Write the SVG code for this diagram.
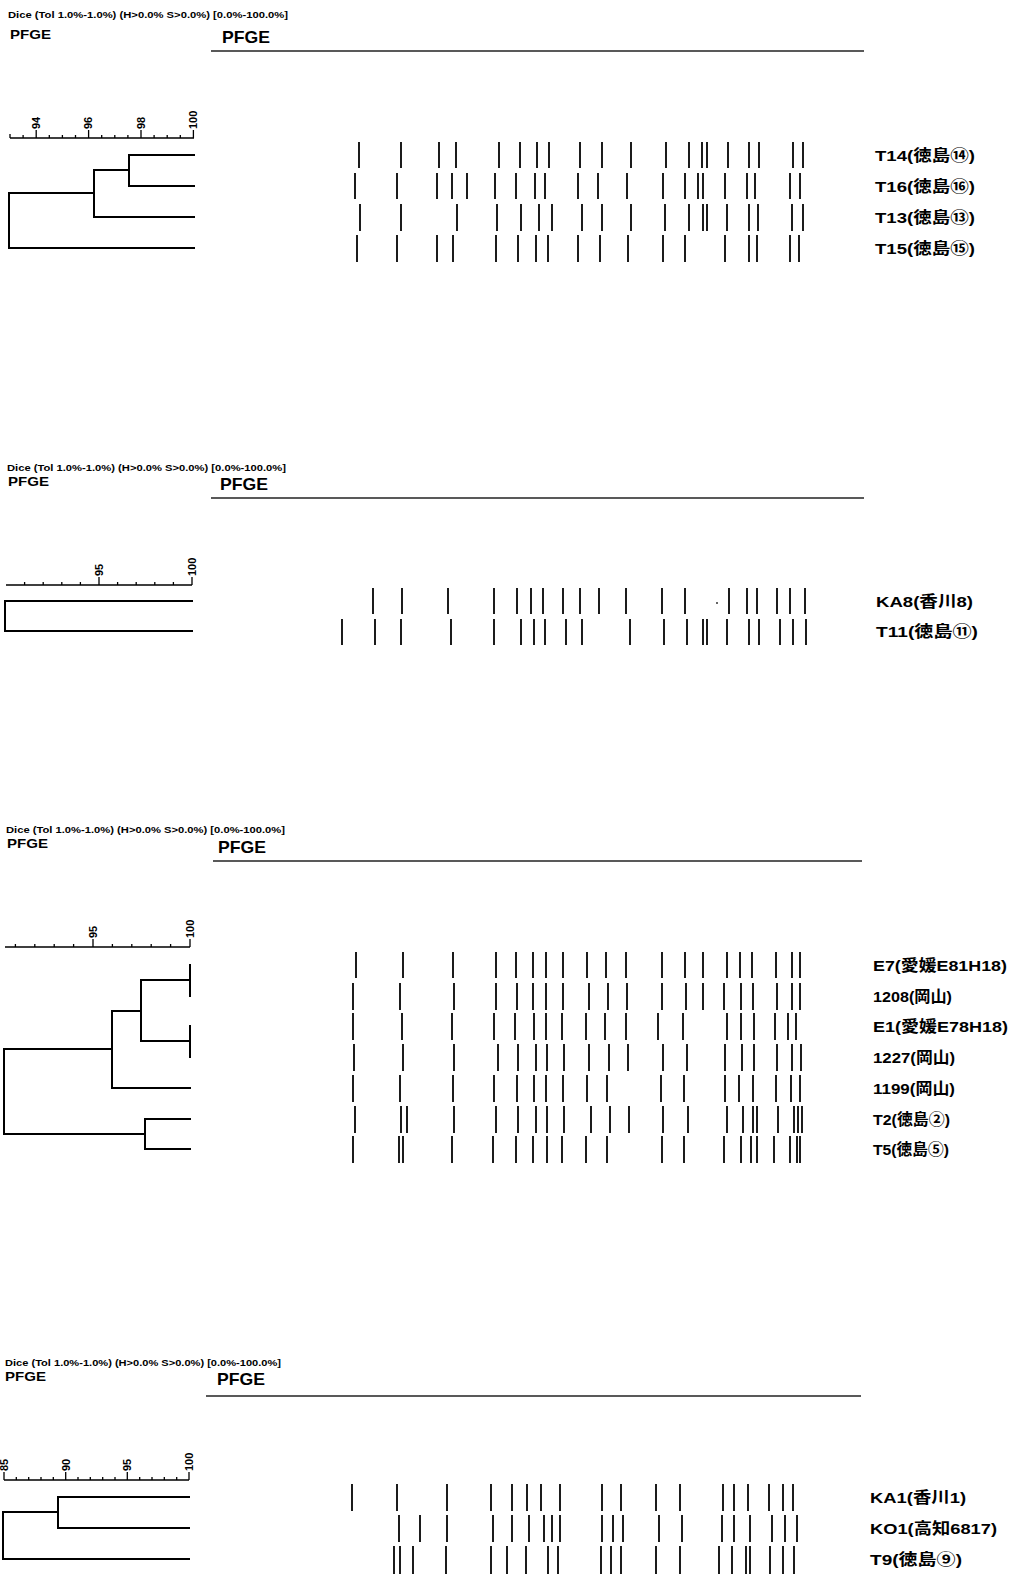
<svg xmlns="http://www.w3.org/2000/svg" width="1013" height="1575" viewBox="0 0 1013 1575">
<style>
.bg{fill:#fff}
.band{stroke:#111;stroke-width:1.9;fill:none}
.den{stroke:#000;stroke-width:2;fill:none;stroke-linecap:square}
.ax{stroke:#000;stroke-width:1.3;fill:none}
.hl{stroke:#222;stroke-width:1.4}
.hd{font-family:"Liberation Sans","DejaVu Sans",sans-serif;font-weight:bold;fill:#000}
.lb{font-family:"Liberation Sans","Noto Sans CJK JP",sans-serif;font-weight:bold;font-size:15.5px;fill:#000}
.sc{font-family:"Liberation Sans",sans-serif;font-weight:bold;font-size:11px;fill:#000}
</style>
<rect class="bg" x="0" y="0" width="1013" height="1575"/>

<!-- Panel 1 -->
<g id="panel1-header">
<text class="hd" x="8" y="18" font-size="9.5" textLength="280" lengthAdjust="spacingAndGlyphs">Dice (Tol 1.0%-1.0%) (H&gt;0.0% S&gt;0.0%) [0.0%-100.0%]</text>
<text class="hd" x="10" y="39" font-size="12.5" textLength="41" lengthAdjust="spacingAndGlyphs">PFGE</text>
<text class="hd" x="222" y="43" font-size="16.5" textLength="48" lengthAdjust="spacingAndGlyphs">PFGE</text>
<line class="hl" x1="211" y1="51" x2="864" y2="51"/>
</g>
<g id="panel1-scale">
<path class="ax" d="M10 138H194M10 138v-4M23.1 138v-3M49.3 138v-3M62.4 138v-3M75.5 138v-3M101.7 138v-3M114.8 138v-3M127.9 138v-3M154.1 138v-3M167.2 138v-3M180.3 138v-3M36.2 138v-8M88.6 138v-8M141 138v-8M193.4 138v-8"/>
<text class="sc" transform="translate(40,129) rotate(-90)">94</text>
<text class="sc" transform="translate(92.4,129) rotate(-90)">96</text>
<text class="sc" transform="translate(144.8,129) rotate(-90)">98</text>
<text class="sc" transform="translate(197.2,129) rotate(-90)">100</text>
</g>
<g id="lane-T14">
<path class="band" d="M359 142v26M401 142v26M439 142v26M456 142v26M499 142v26M520 142v26M537 142v26M549 142v26M580 142v26M602 142v26M631 142v26M666 142v26M689 142v26M702 142v26M707 142v26M728 142v26M749 142v26M759 142v26M793 142v26M803 142v26"/>
<text class="lb" x="875" y="160.5" textLength="100" lengthAdjust="spacingAndGlyphs">T14(徳島⑭)</text>
</g>
<g id="lane-T16">
<path class="band" d="M355 173v26M397 173v26M437 173v26M452 173v26M467 173v26M495 173v26M516 173v26M535 173v26M545 173v26M578 173v26M598 173v26M627 173v26M663 173v26M685 173v26M698 173v26M703 173v26M725 173v26M747 173v26M755 173v26M790 173v26M800 173v26"/>
<text class="lb" x="875" y="191.5" textLength="100" lengthAdjust="spacingAndGlyphs">T16(徳島⑯)</text>
</g>
<g id="lane-T13">
<path class="band" d="M360 204v27M401 204v27M457 204v27M497 204v27M521 204v27M539 204v27M552 204v27M582 204v27M602 204v27M631 204v27M665 204v27M689 204v27M703 204v27M707 204v27M727 204v27M749 204v27M758 204v27M792 204v27M803 204v27"/>
<text class="lb" x="875" y="222.5" textLength="100" lengthAdjust="spacingAndGlyphs">T13(徳島⑬)</text>
</g>
<g id="lane-T15">
<path class="band" d="M357 235v27M397 235v27M437 235v27M453 235v27M496 235v27M518 235v27M536 235v27M548 235v27M578 235v27M600 235v27M628 235v27M663 235v27M685 235v27M725 235v27M749 235v27M757 235v27M790 235v27M799 235v27"/>
<text class="lb" x="875" y="253.5" textLength="100" lengthAdjust="spacingAndGlyphs">T15(徳島⑮)</text>
</g>

<!-- Panel 2 -->
<g id="panel2-header">
<text class="hd" x="7" y="471" font-size="9.5" textLength="279" lengthAdjust="spacingAndGlyphs">Dice (Tol 1.0%-1.0%) (H&gt;0.0% S&gt;0.0%) [0.0%-100.0%]</text>
<text class="hd" x="8" y="486" font-size="12.5" textLength="41" lengthAdjust="spacingAndGlyphs">PFGE</text>
<text class="hd" x="220" y="490" font-size="16.5" textLength="48" lengthAdjust="spacingAndGlyphs">PFGE</text>
<line class="hl" x1="211" y1="498" x2="864" y2="498"/>
</g>
<g id="panel2-scale">
<path class="ax" d="M6 585H192M24.6 585v-3M43.2 585v-3M61.8 585v-3M80.4 585v-3M117.6 585v-3M136.2 585v-3M154.8 585v-3M173.4 585v-3M99 585v-8M192 585v-8"/>
<text class="sc" transform="translate(102.8,576) rotate(-90)">95</text>
<text class="sc" transform="translate(195.8,576) rotate(-90)">100</text>
</g>
<g id="lane-KA8">
<path class="band" d="M373 588v26M402 588v26M448 588v26M494 588v26M517 588v26M531 588v26M543 588v26M563 588v26M580 588v26M599 588v26M626 588v26M662 588v26M685 588v26M729 588v26M747 588v26M757 588v26M777 588v26M790 588v26M805 588v26"/>
<circle cx="717" cy="603" r="1" fill="#333"/>
<text class="lb" x="876" y="606.5" textLength="97" lengthAdjust="spacingAndGlyphs">KA8(香川8)</text>
</g>
<g id="lane-T11">
<path class="band" d="M342 619v26M375 619v26M401 619v26M451 619v26M494 619v26M521 619v26M534 619v26M545 619v26M566 619v26M582 619v26M630 619v26M664 619v26M687 619v26M703 619v26M707 619v26M727 619v26M749 619v26M759 619v26M780 619v26M793 619v26M806 619v26"/>
<text class="lb" x="876" y="636.5" textLength="102" lengthAdjust="spacingAndGlyphs">T11(徳島⑪)</text>
</g>

<!-- Panel 3 -->
<g id="panel3-header">
<text class="hd" x="6" y="833" font-size="9.5" textLength="279" lengthAdjust="spacingAndGlyphs">Dice (Tol 1.0%-1.0%) (H&gt;0.0% S&gt;0.0%) [0.0%-100.0%]</text>
<text class="hd" x="7" y="848" font-size="12.5" textLength="41" lengthAdjust="spacingAndGlyphs">PFGE</text>
<text class="hd" x="218" y="853" font-size="16.5" textLength="48" lengthAdjust="spacingAndGlyphs">PFGE</text>
<line class="hl" x1="213" y1="861" x2="862" y2="861"/>
</g>
<g id="panel3-scale">
<path class="ax" d="M5 947H190M15.4 947v-3M34.8 947v-3M54.2 947v-3M73.6 947v-3M112.4 947v-3M131.8 947v-3M151.2 947v-3M170.6 947v-3M93 947v-8M190 947v-8"/>
<text class="sc" transform="translate(96.8,938) rotate(-90)">95</text>
<text class="sc" transform="translate(193.8,938) rotate(-90)">100</text>
</g>
<g id="lane-E7">
<path class="band" d="M356 952v26M403 952v26M453 952v26M496 952v26M516 952v26M533 952v26M546 952v26M563 952v26M587 952v26M606 952v26M626 952v26M662 952v26M685 952v26M703 952v26M727 952v26M740 952v26M752 952v26M776 952v26M792 952v26M800 952v26"/>
<text class="lb" x="873" y="970.5" textLength="134" lengthAdjust="spacingAndGlyphs">E7(愛媛E81H18)</text>
</g>
<g id="lane-1208">
<path class="band" d="M353 983v27M400 983v27M454 983v27M496 983v27M517 983v27M533 983v27M546 983v27M563 983v27M589 983v27M608 983v27M627 983v27M662 983v27M686 983v27M703 983v27M724 983v27M741 983v27M753 983v27M777 983v27M792 983v27M800 983v27"/>
<text class="lb" x="873" y="1001.5" textLength="79" lengthAdjust="spacingAndGlyphs">1208(岡山)</text>
</g>
<g id="lane-E1">
<path class="band" d="M353 1013v27M402 1013v27M452 1013v27M494 1013v27M515 1013v27M534 1013v27M546 1013v27M562 1013v27M586 1013v27M605 1013v27M626 1013v27M658 1013v27M683 1013v27M727 1013v27M741 1013v27M754 1013v27M775 1013v27M788 1013v27M796 1013v27"/>
<text class="lb" x="873" y="1031.5" textLength="135" lengthAdjust="spacingAndGlyphs">E1(愛媛E78H18)</text>
</g>
<g id="lane-1227">
<path class="band" d="M354 1044v27M403 1044v27M454 1044v27M498 1044v27M518 1044v27M536 1044v27M547 1044v27M564 1044v27M589 1044v27M609 1044v27M628 1044v27M663 1044v27M687 1044v27M725 1044v27M742 1044v27M754 1044v27M777 1044v27M792 1044v27M801 1044v27"/>
<text class="lb" x="873" y="1062.5" textLength="82" lengthAdjust="spacingAndGlyphs">1227(岡山)</text>
</g>
<g id="lane-1199">
<path class="band" d="M353 1075v27M400 1075v27M453 1075v27M494 1075v27M517 1075v27M534 1075v27M546 1075v27M563 1075v27M587 1075v27M607 1075v27M661 1075v27M684 1075v27M725 1075v27M739 1075v27M753 1075v27M776 1075v27M791 1075v27M800 1075v27"/>
<text class="lb" x="873" y="1093.5" textLength="82" lengthAdjust="spacingAndGlyphs">1199(岡山)</text>
</g>
<g id="lane-T2">
<path class="band" d="M355 1106v27M401 1106v27M407 1106v27M454 1106v27M496 1106v27M518 1106v27M536 1106v27M547 1106v27M564 1106v27M591 1106v27M610 1106v27M629 1106v27M663 1106v27M688 1106v27M727 1106v27M743 1106v27M753 1106v27M757 1106v27M778 1106v27M794 1106v27M798 1106v27M802 1106v27"/>
<text class="lb" x="873" y="1124.5" textLength="77" lengthAdjust="spacingAndGlyphs">T2(徳島②)</text>
</g>
<g id="lane-T5">
<path class="band" d="M353 1136v27M399 1136v27M403 1136v27M452 1136v27M493 1136v27M516 1136v27M533 1136v27M547 1136v27M562 1136v27M586 1136v27M607 1136v27M662 1136v27M684 1136v27M724 1136v27M741 1136v27M751 1136v27M757 1136v27M774 1136v27M790 1136v27M797 1136v27M800 1136v27"/>
<text class="lb" x="873" y="1154.5" textLength="76" lengthAdjust="spacingAndGlyphs">T5(徳島⑤)</text>
</g>

<!-- Panel 4 -->
<g id="panel4-header">
<text class="hd" x="5" y="1366" font-size="9.5" textLength="276" lengthAdjust="spacingAndGlyphs">Dice (Tol 1.0%-1.0%) (H&gt;0.0% S&gt;0.0%) [0.0%-100.0%]</text>
<text class="hd" x="5" y="1381" font-size="12.5" textLength="41" lengthAdjust="spacingAndGlyphs">PFGE</text>
<text class="hd" x="217" y="1385" font-size="16.5" textLength="48" lengthAdjust="spacingAndGlyphs">PFGE</text>
<line class="hl" x1="206" y1="1396" x2="861" y2="1396"/>
</g>
<g id="panel4-scale">
<path class="ax" d="M4 1480H189M16.3 1480v-3M28.7 1480v-3M41 1480v-3M53.3 1480v-3M78 1480v-3M90.3 1480v-3M102.7 1480v-3M115 1480v-3M139.7 1480v-3M152 1480v-3M164.3 1480v-3M176.7 1480v-3M4 1480v-8M65.7 1480v-8M127.3 1480v-8M189 1480v-8"/>
<text class="sc" transform="translate(7.8,1471) rotate(-90)">85</text>
<text class="sc" transform="translate(69.5,1471) rotate(-90)">90</text>
<text class="sc" transform="translate(131.1,1471) rotate(-90)">95</text>
<text class="sc" transform="translate(192.8,1471) rotate(-90)">100</text>
</g>
<g id="lane-KA1">
<path class="band" d="M352 1484v27M397 1484v27M447 1484v27M491 1484v27M512 1484v27M527 1484v27M541 1484v27M560 1484v27M602 1484v27M621 1484v27M656 1484v27M680 1484v27M723 1484v27M734 1484v27M748 1484v27M769 1484v27M783 1484v27M793 1484v27"/>
<text class="lb" x="870" y="1502.5" textLength="96" lengthAdjust="spacingAndGlyphs">KA1(香川1)</text>
</g>
<g id="lane-KO1">
<path class="band" d="M399 1515v27M420 1515v27M447 1515v27M493 1515v27M512 1515v27M529 1515v27M544 1515v27M552 1515v27M560 1515v27M602 1515v27M613 1515v27M623 1515v27M659 1515v27M682 1515v27M722 1515v27M734 1515v27M750 1515v27M772 1515v27M785 1515v27M797 1515v27"/>
<text class="lb" x="870" y="1533.5" textLength="127" lengthAdjust="spacingAndGlyphs">KO1(高知6817)</text>
</g>
<g id="lane-T9">
<path class="band" d="M394 1546v28M400 1546v28M413 1546v28M446 1546v28M491 1546v28M507 1546v28M526 1546v28M548 1546v28M558 1546v28M601 1546v28M611 1546v28M621 1546v28M656 1546v28M680 1546v28M719 1546v28M732 1546v28M746 1546v28M750 1546v28M770 1546v28M783 1546v28M794 1546v28"/>
<text class="lb" x="870" y="1564.5" textLength="92" lengthAdjust="spacingAndGlyphs">T9(徳島⑨)</text>
</g>

<!-- Dendrogram connectors -->
<g id="connectors">
<path class="den" d="M194 155H129V186H194M129 170H94V217H194M94 193H9V248H194"/>
<path class="den" d="M192 601H5V631H192"/>
<path class="den" d="M190 965V996M190 1026V1057M190 980H141V1041H190M141 1011H112V1088H190M112 1049H4V1134H145M190 1119H145V1149H190"/>
<path class="den" d="M189 1497H58V1528H189M58 1512H3V1559H189"/>
</g>
</svg>
